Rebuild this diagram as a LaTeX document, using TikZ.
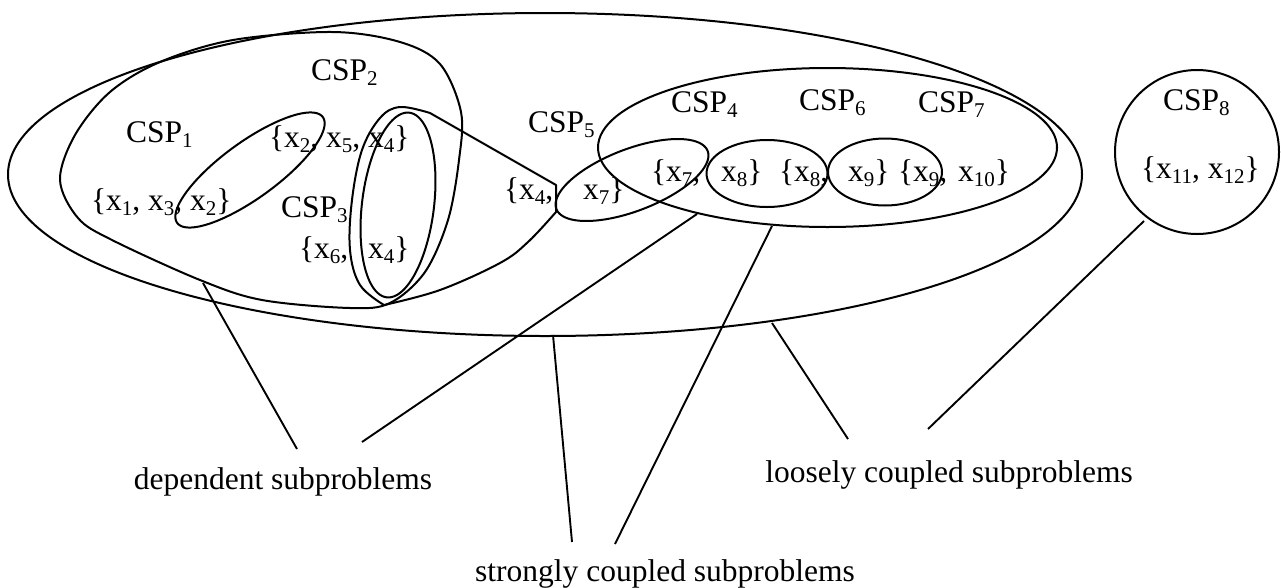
\documentclass[tikz,border=0pt]{standalone}
\usepackage{fontspec}
\setmainfont{Liberation Serif}
\newcommand\sbs[1]{\raisebox{-5pt}{\fontsize{21}{21}\selectfont #1}}
\newcommand\tellipse[6][]{\draw[#1] plot[domain=0:360,samples=181] ({#2+#4*cos(\x)*cos(#6)-#5*sin(\x)*sin(#6)},{#3+#4*cos(\x)*sin(#6)+#5*sin(\x)*cos(#6)}) -- cycle;}
\begin{document}
\begin{tikzpicture}[x=1pt,y=-1pt,line width=2pt,line join=round,
  lbl/.style={font=\fontsize{31.5}{36}\selectfont,inner sep=0pt,anchor=base west},
  lead/.style={line width=1.9pt}]
\useasboundingbox (0,0) rectangle (1281,587);

% outer loosely-coupled group
\draw (545,174.5) ellipse [x radius=537pt, y radius=161.5pt];
% CSP2 outline
\draw plot[smooth cycle, tension=0.55] coordinates {(60,180)(78,218)(112,240)(200,280)(262,300)(350,308)(390,303)(425,272)(448,220)(459,160)(461,112)(440,64)(400,42)(333,32)(233,40)(160,62)(110,92)(75,135)};
% x4 shape (around CSP3)
\draw plot[smooth, tension=0.6] coordinates {(384,305)(360,285)(350,250)(352,200)(362,150)(380,118)(400,107)(430,113)} -- (556,185) -- plot[smooth, tension=0.6] coordinates {(556,212)(528,242)(500,263)(440,290)(384,305)};
% CSP3 inner ellipse
\tellipse{398}{205}{36}{93}{7}
% CSP1 ellipse (x2)
\tellipse{250}{170}{90}{28}{-36}
% CSP5 ellipse (x7)
\tellipse{632}{180}{81}{31}{-21}
% strongly coupled group
\draw (827.5,147.5) ellipse [x radius=229.5pt, y radius=79.5pt];
\draw (767,173.5) ellipse [x radius=60.5pt, y radius=33.5pt];
\draw (885,172) ellipse [x radius=57pt, y radius=33.5pt];
% CSP8
\draw (1197,152) circle [radius=82pt];

% texts
\node[lbl] (c1) at (125,142) {CSP\sbs{1}};
\node[lbl] (c2) at (310,80) {CSP\sbs{2}};
\node[lbl] (c3) at (280,217) {CSP\sbs{3}};
\node[lbl] (c4) at (670,112) {CSP\sbs{4}};
\node[lbl] (c5) at (527,132) {CSP\sbs{5}};
\node[lbl] (c6) at (798,110) {CSP\sbs{6}};
\node[lbl] (c7) at (917,112) {CSP\sbs{7}};
\node[lbl] (c8) at (1162,110) {CSP\sbs{8}};

\node[lbl] (t1) at (90,210) {\{x\sbs{1}, x\sbs{3}, x\sbs{2}\}};
\node[lbl] (t2) at (268,147) {\{x\sbs{2}, x\sbs{5}, x\sbs{4}\}};
\node[lbl] (t3a) at (298,258) {\{x\sbs{6},};
\node[lbl] (t3b) at (367,258) {x\sbs{4}\}};
\node[lbl] (t4a) at (503,199) {\{x\sbs{4},};
\node[lbl] (t4b) at (582,199) {x\sbs{7}\}};
\node[lbl] (t5a) at (650,181) {\{x\sbs{7},};
\node[lbl] (t5b) at (720,181) {x\sbs{8}\}};
\node[lbl] (t5c) at (778,181) {\{x\sbs{8},};
\node[lbl] (t5d) at (847,181) {x\sbs{9}\}};
\node[lbl] (t5e) at (897,181) {\{x\sbs{9},};
\node[lbl] (t5f) at (957,181) {x\sbs{10}\}};
\node[lbl] (t6) at (1140,178) {\{x\sbs{11}, x\sbs{12}\}};

\node[lbl,anchor=base] (dep) at (283,489) {dependent subproblems};
\node[lbl,anchor=base] (str) at (665,581) {strongly coupled subproblems};
\node[lbl,anchor=base] (loo) at (949,482) {loosely coupled subproblems};

% leaders
\coordinate (d1s) at (203,283); \coordinate (d1e) at (297,449);
\coordinate (d2s) at (697,214); \coordinate (d2e) at (362,442);
\coordinate (s1s) at (553,335); \coordinate (s1e) at (572,542);
\coordinate (s2s) at (772,226); \coordinate (s2e) at (615,544);
\coordinate (l1s) at (772,323); \coordinate (l1e) at (848,439);
\coordinate (l2s) at (1144,221); \coordinate (l2e) at (928,429);
\draw[lead] (d1s) -- (d1e);
\draw[lead] (d2s) -- (d2e);
\draw[lead] (s1s) -- (s1e);
\draw[lead] (s2s) -- (s2e);
\draw[lead] (l1s) -- (l1e);
\draw[lead] (l2s) -- (l2e);
\end{tikzpicture}
\end{document}
